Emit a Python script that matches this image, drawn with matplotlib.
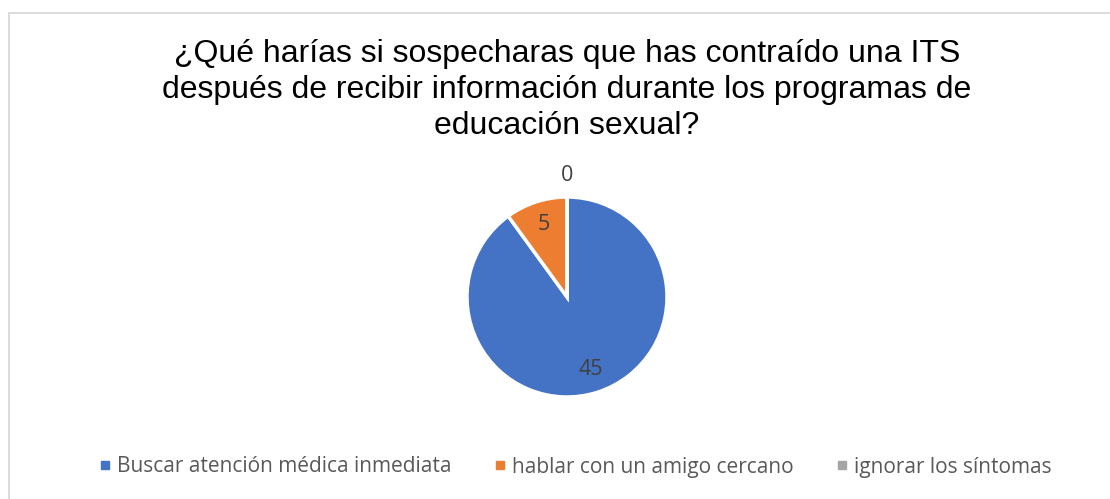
import numpy as np
import matplotlib.pyplot as plt
from matplotlib.patches import Rectangle
from matplotlib.lines import Line2D

# datos
categorias = ['Buscar atención médica inmediata', 'hablar con un amigo cercano', 'ignorar los síntomas']
valores = [45, 5, 0]
colores = ['#4472C4', '#ED7D31', '#A5A5A5']
titulo = '¿Qué harías si sospecharas que has contraído una ITS\ndespués de recibir información durante los programas de\neducación sexual?'

W, H = 1110, 499
fig = plt.figure(figsize=(W / 100, H / 100), dpi=100)

# marco del gráfico
fig.patches.append(Rectangle((8.5 / W, -0.1), 1.2, (H - 12.5) / H + 0.1, transform=fig.transFigure,
                             fill=False, edgecolor='#D9D9D9', linewidth=1.3))

fig.text(567 / W, 1 - 90 / H, titulo, ha='center', va='center', fontsize=23,
         family='Liberation Sans', linespacing=1.26, color='black')

cx, cy, r = 567, 297, 100
ax = fig.add_axes([(cx - r) / W, (H - cy - r) / H, 2 * r / W, 2 * r / H])
total = sum(valores)
wedges, texts, autotexts = ax.pie(valores, colors=colores, startangle=90, counterclock=False,
                                  autopct=lambda p: '%d' % round(p * total / 100),
                                  pctdistance=0.76,
                                  wedgeprops=dict(edgecolor='white', linewidth=2.5),
                                  textprops=dict(fontsize=15.5, color='#404040', family='Open Sans'))
for w, t, v in zip(wedges, autotexts, valores):
    if v == 0:
        ang = np.deg2rad((w.theta1 + w.theta2) / 2)
        t.set_position((1.21 * np.cos(ang), 1.21 * np.sin(ang)))
ax.set_xlim(-1, 1)
ax.set_ylim(-1, 1)
ax.set_aspect('equal')
ax.axis('off')

handles = [Line2D([], [], marker='s', linestyle='', markersize=6, markerfacecolor=c, markeredgecolor=c)
           for c in colores]
fig.legend(handles, categorias, loc='center', bbox_to_anchor=(573 / W, 1 - 467 / H), ncol=3,
           frameon=False, prop=dict(family='Open Sans', size=15), labelcolor='#595959',
           handletextpad=0.1, columnspacing=1.8, handlelength=1.0)

fig.savefig('out.png', dpi=100)
